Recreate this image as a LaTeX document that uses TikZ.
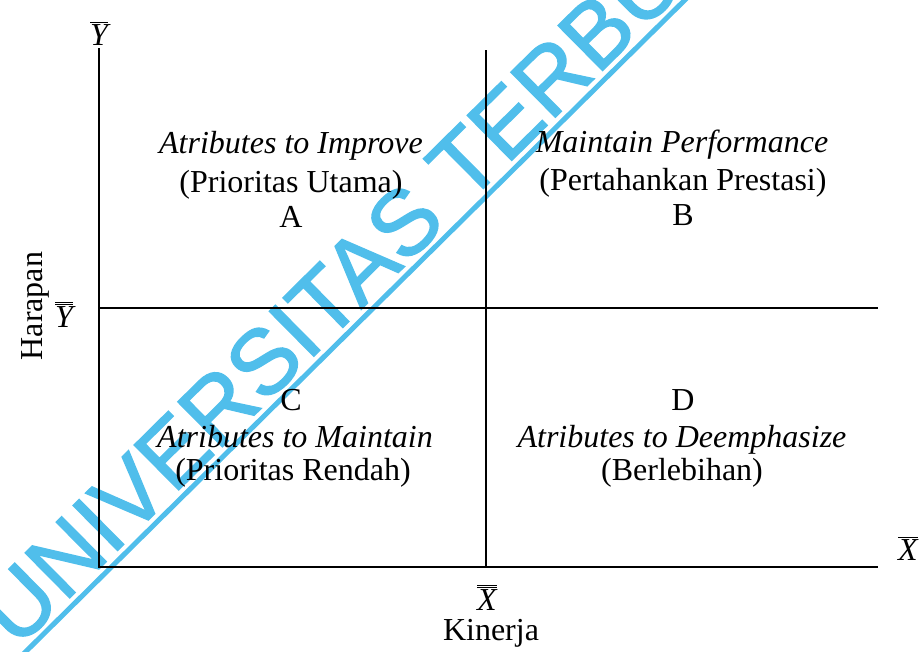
\documentclass[tikz,border=0pt]{standalone}
\usepackage{fontspec}
\setmainfont{Liberation Serif}
\newfontfamily\wmfont[FakeBold=1.5]{Liberation Sans}
\definecolor{wmcol}{RGB}{80,190,235}
\begin{document}
\begin{tikzpicture}[x=1pt,y=-1pt,
  axisline/.style={line width=1.8pt,black},
  txt/.style={font=\fontsize{32}{38}\selectfont,inner sep=0pt,anchor=base},
  itxt/.style={txt,font=\fontsize{32}{38}\selectfont\itshape},
  wmtext/.style={text=wmcol,font=\fontsize{92}{100}\wmfont,inner sep=0pt,anchor=base west}]
\useasboundingbox (0,0) rectangle (921,651);
% watermark
\begin{scope}
\clip (0,0) rectangle (921,651);
\draw[wmcol,line width=5pt] (-10,687) -- (700,-15);
\node[wmtext,rotate=44.7] (wm) at (17,650) {UNIVERSITAS TERBUKA};
\end{scope}
% axes
\coordinate (o) at (99,567);
\coordinate (ytop) at (99,48);
\coordinate (xend) at (878,567);
\coordinate (mtop) at (486,50);
\coordinate (mbot) at (486,567);
\coordinate (hl) at (99,308);
\coordinate (hr) at (878,308);
\draw[axisline] (ytop) -- (o) -- (xend);
\draw[axisline] (mtop) -- (mbot);
\draw[axisline] (hl) -- (hr);
% axis labels
\node[txt] (ybar) at (99,45) {$\overline{\hbox{\itshape Y}}$};
\node[txt] (xbar) at (908,560) {$\overline{\hbox{\itshape X}}$};
\node[txt] (xbb) at (487,610) {$\overline{\overline{\hbox{\itshape X}}}$};
\node[txt] (kin) at (491,640) {Kinerja};
\node[txt,rotate=90] (har) at (42,306) {Harapan};
\node[txt] (ybb) at (64,327) {$\overline{\overline{\hbox{\itshape Y}}}$};
% quadrant A
\node[itxt] (a1) at (291,153) {Atributes to Improve};
\node[txt] (a2) at (291,192) {(Prioritas Utama)};
\node[txt] (a3) at (291,227) {A};
% quadrant B
\node[itxt] (b1) at (682,152) {Maintain Performance};
\node[txt] (b2) at (683,190) {(Pertahankan Prestasi)};
\node[txt] (b3) at (683,225) {B};
% quadrant C
\node[txt] (c3) at (291,410) {C};
\node[itxt] (c1) at (295,447) {Atributes to Maintain};
\node[txt] (c2) at (293,480) {(Prioritas Rendah)};
% quadrant D
\node[txt] (d3) at (683,410) {D};
\node[itxt] (d1) at (682,447) {Atributes to Deemphasize};
\node[txt] (d2) at (682,480) {(Berlebihan)};
\end{tikzpicture}
\end{document}
